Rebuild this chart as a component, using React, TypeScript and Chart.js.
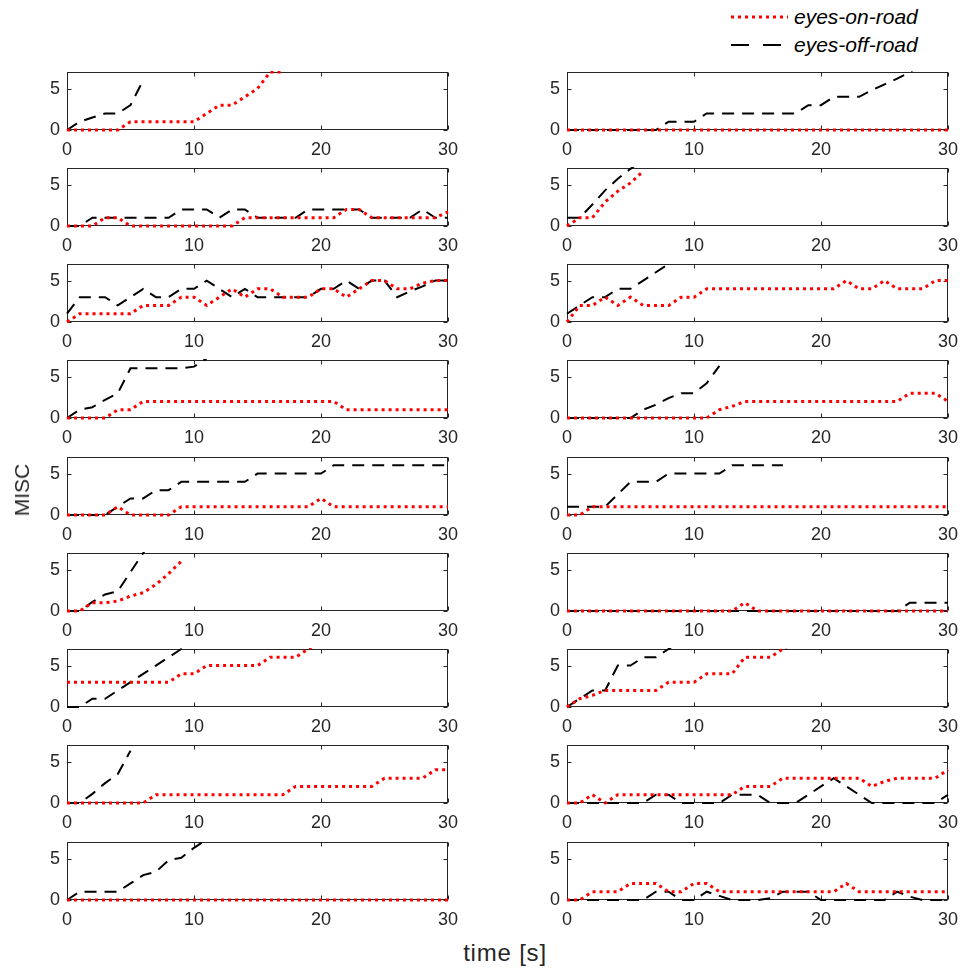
import React, { useEffect, useRef } from "react";
import { Chart, registerables } from "chart.js";

Chart.register(...registerables);

// ---------- data ----------
const TIME = [0, 1, 2, 3, 4, 5, 6, 7, 8, 9, 10, 11, 12, 13, 14, 15, 16, 17, 18, 19, 20, 21, 22, 23, 24, 25, 26, 27, 28, 29, 30];
const X_TICKS = [0, 10, 20, 30];
const Y_TICKS = [0, 5];
const X_MAX = 30;
const Y_MAX = 7;
const SERIES_NAMES = ["eyes-on-road", "eyes-off-road"];
const X_TITLE = "time [s]";
const Y_TITLE = "MISC";

// row 1
const L1_ON = [0, 0, 0, 0, 0, 1, 1, 1, 1, 1, 1, 2, 3, 3, 4, 5, 7, 7];
const L1_OFF = [0, 1, 1.5, 2, 2, 3, 6];
const R1_ON = [0, 0, 0, 0, 0, 0, 0, 0, 0, 0, 0, 0, 0, 0, 0, 0, 0, 0, 0, 0, 0, 0, 0, 0, 0, 0, 0, 0, 0, 0, 0];
const R1_OFF = [0, 0, 0, 0, 0, 0, 0, 0, 1, 1, 1, 2, 2, 2, 2, 2, 2, 2, 2, 3, 3, 4, 4, 4, 4.8, 5.5, 6.2, 7, 8];
// row 2
const L2_ON = [0, 0, 0, 1, 1, 0, 0, 0, 0, 0, 0, 0, 0, 0, 1, 1, 1, 1, 1, 1, 1, 1, 2, 2, 1, 1, 1, 1, 1, 1, 1.7];
const L2_OFF = [0, 0, 1, 1, 1, 1, 1, 1, 1, 2, 2, 2, 1, 2, 2, 1, 1, 1, 1, 2, 2, 2, 2, 2, 1, 1, 1, 1, 2, 1, 1];
const R2_ON = [0, 1, 1, 2.9, 4.2, 5.2, 6.6];
const R2_OFF = [1, 1, 2.6, 4.3, 5.7, 6.9, 8];
// row 3
const L3_ON = [0, 1, 1, 1, 1, 1, 2, 2, 2, 3, 3, 2, 3, 4, 3, 4, 4, 3, 3, 3, 4, 4, 3, 4, 5, 5, 4, 4, 4.7, 5, 5];
const L3_OFF = [1, 3, 3, 3, 2, 3, 4, 3, 3, 4, 4, 5, 4, 3, 4, 3, 3, 3, 3, 3, 4, 4, 5, 4, 5, 5, 3, 3.7, 4.3, 5, 5];
const R3_ON = [0, 2, 2, 3, 2, 3, 2, 2, 2, 3, 3, 4, 4, 4, 4, 4, 4, 4, 4, 4, 4, 4, 5, 4, 4, 5, 4, 4, 4, 5, 5];
const R3_OFF = [1, 2, 3, 3, 4, 4, 5, 6, 7, 8];
// row 4
const L4_ON = [0, 0, 0, 0, 1, 1, 2, 2, 2, 2, 2, 2, 2, 2, 2, 2, 2, 2, 2, 2, 2, 2, 1, 1, 1, 1, 1, 1, 1, 1, 1];
const L4_OFF = [0, 1, 1.3, 2.2, 3, 6, 6, 6, 6, 6, 6.2, 7.2];
const R4_ON = [0, 0, 0, 0, 0, 0, 0, 0, 0, 0, 0, 0, 1, 1.4, 2, 2, 2, 2, 2, 2, 2, 2, 2, 2, 2, 2, 2, 3, 3, 3, 2];
const R4_OFF = [0, 0, 0, 0, 0, 0, 1, 1.6, 2.4, 3, 3, 4.2, 6.3];
// row 5
const L5_ON = [0, 0, 0, 0, 1, 0, 0, 0, 0, 1, 1, 1, 1, 1, 1, 1, 1, 1, 1, 1, 2, 1, 1, 1, 1, 1, 1, 1, 1, 1, 1];
const L5_OFF = [0, 0, 0, 0, 1, 2, 2, 3, 3, 4, 4, 4, 4, 4, 4, 5, 5, 5, 5, 5, 5, 6, 6, 6, 6, 6, 6, 6, 6, 6, 6];
const R5_ON = [0, 0, 1, 1, 1, 1, 1, 1, 1, 1, 1, 1, 1, 1, 1, 1, 1, 1, 1, 1, 1, 1, 1, 1, 1, 1, 1, 1, 1, 1, 1];
const R5_OFF = [1, 1, 1, 1, 2.5, 4, 4, 4, 5, 5, 5, 5, 5, 6, 6, 6, 6, 6];
// row 6
const L6_ON = [0, 0, 1, 1, 1.2, 1.8, 2.2, 3.2, 4.5, 6];
const L6_OFF = [0, 0, 1.1, 2, 2.4, 4.7, 7, 9];
const R6_ON = [0, 0, 0, 0, 0, 0, 0, 0, 0, 0, 0, 0, 0, 0, 1, 0, 0, 0, 0, 0, 0, 0, 0, 0, 0, 0, 0, 0, 0, 0, 0];
const R6_OFF = [0, 0, 0, 0, 0, 0, 0, 0, 0, 0, 0, 0, 0, 0, 0, 0, 0, 0, 0, 0, 0, 0, 0, 0, 0, 0, 0, 1, 1, 1, 1];
// row 7
const L7_ON = [3, 3, 3, 3, 3, 3, 3, 3, 3, 4, 4, 5, 5, 5, 5, 5, 6, 6, 6, 7, 8];
const L7_OFF = [0, 0, 1, 1, 2, 3, 4, 5, 6, 7, 8];
const R7_ON = [0, 1, 1.4, 2, 2, 2, 2, 2, 3, 3, 3, 4, 4, 4, 6, 6, 6, 7, 8];
const R7_OFF = [0, 1, 2, 2, 5, 5, 6, 6, 7, 8];
// row 8
const L8_ON = [0, 0, 0, 0, 0, 0, 0, 1, 1, 1, 1, 1, 1, 1, 1, 1, 1, 1, 2, 2, 2, 2, 2, 2, 2, 3, 3, 3, 3, 4, 4];
const L8_OFF = [0, 0, 1.1, 2.4, 3.5, 6.3];
const R8_ON = [0, 0, 1, 0, 1, 1, 1, 1, 1, 1, 1, 1, 1, 1, 2, 2, 2, 3, 3, 3, 3, 3, 3, 3, 2, 2.6, 3, 3, 3, 3, 4];
const R8_OFF = [0, 0, 0, 0, 0, 0, 0, 1, 1, 0, 0, 0, 0, 1, 1, 1, 0, 0, 0, 1, 2, 3, 2, 1, 0, 0, 0, 0, 0, 0, 1];
// row 9
const L9_ON = [0, 0, 0, 0, 0, 0, 0, 0, 0, 0, 0, 0, 0, 0, 0, 0, 0, 0, 0, 0, 0, 0, 0, 0, 0, 0, 0, 0, 0, 0, 0];
const L9_OFF = [0, 1, 1, 1, 1, 2, 3, 3.4, 4.8, 5.1, 6.3, 7.3, 8];
const R9_ON = [0, 0, 1, 1, 1, 2, 2, 2, 1, 1, 2, 2, 1, 1, 1, 1, 1, 1, 1, 1, 1, 1, 2, 1, 1, 1, 1, 1, 1, 1, 1];
const R9_OFF = [0, 0, 0, 0, 0, 0, 0, 1, 1, 0, 0, 1, 0.5, 0, 0, 0, 0.2, 1, 1, 1, 0, 0, 0, 0, 0, 0, 1, 0.4, 0, 0, 0];

const PANEL_ROWS = [
  [[L1_ON, L1_OFF], [R1_ON, R1_OFF]],
  [[L2_ON, L2_OFF], [R2_ON, R2_OFF]],
  [[L3_ON, L3_OFF], [R3_ON, R3_OFF]],
  [[L4_ON, L4_OFF], [R4_ON, R4_OFF]],
  [[L5_ON, L5_OFF], [R5_ON, R5_OFF]],
  [[L6_ON, L6_OFF], [R6_ON, R6_OFF]],
  [[L7_ON, L7_OFF], [R7_ON, R7_OFF]],
  [[L8_ON, L8_OFF], [R8_ON, R8_OFF]],
  [[L9_ON, L9_OFF], [R9_ON, R9_OFF]],
];

// ---------- layout / style ----------
const COL_LEFT = [67, 567];
const ROW_TOP = [72, 168, 264, 360, 457, 553, 649, 745, 842];
const BOX_W = 381;
const BOX_H = 58;
const PAD_L = 55;
const PAD_T = 6;
const PAD_R = 18;
const PAD_B = 34;
const FONT = "'Liberation Sans', Arial, Helvetica, sans-serif";
const AXIS_COLOR = "#262626";
const RED = "#ff0000";
const BLACK = "#000000";
const RED_DASH = [3, 4];
const BLACK_DASH = [12, 8];

const toPoints = (vals: number[]) => vals.map((v, i) => ({ x: TIME[i], y: v }));

const boxPlugin = {
  id: "boxTicks",
  beforeDatasetsDraw(chart: any) {
    const { ctx, chartArea: a, scales } = chart;
    const L = Math.round(a.left) + 0.5;
    const R = Math.round(a.right) - 0.5;
    const T = Math.round(a.top) + 0.5;
    const B = Math.round(a.bottom) - 0.5;
    ctx.save();
    ctx.strokeStyle = AXIS_COLOR;
    ctx.lineWidth = 1;
    ctx.strokeRect(L, T, R - L, B - T);
    ctx.beginPath();
    const tl = 4;
    X_TICKS.forEach((v) => {
      const px = Math.round(scales.x.getPixelForValue(v)) + 0.5;
      ctx.moveTo(px, B);
      ctx.lineTo(px, B - tl);
      ctx.moveTo(px, T);
      ctx.lineTo(px, T + tl);
    });
    Y_TICKS.forEach((v) => {
      const py = Math.round(scales.y.getPixelForValue(v)) + 0.5;
      ctx.moveTo(L, py);
      ctx.lineTo(L + tl, py);
      ctx.moveTo(R, py);
      ctx.lineTo(R - tl, py);
    });
    ctx.stroke();
    ctx.restore();
  },
};

function Panel({ on, off, left, top }: { on: number[]; off: number[]; left: number; top: number }) {
  const ref = useRef<HTMLCanvasElement | null>(null);
  useEffect(() => {
    if (!ref.current) return;
    const chart = new Chart(ref.current, {
      type: "line",
      data: {
        datasets: [
          {
            label: SERIES_NAMES[0],
            data: toPoints(on),
            borderColor: RED,
            backgroundColor: RED,
            borderWidth: 3,
            borderDash: RED_DASH,
            borderCapStyle: "butt",
            pointRadius: 0,
            tension: 0,
            fill: false,
            clip: { left: 2, right: 2, top: 1, bottom: 4 } as any,
          },
          {
            label: SERIES_NAMES[1],
            data: toPoints(off),
            borderColor: BLACK,
            backgroundColor: BLACK,
            borderWidth: 2,
            borderDash: BLACK_DASH,
            borderCapStyle: "butt",
            pointRadius: 0,
            tension: 0,
            fill: false,
            clip: { left: 2, right: 2, top: 1, bottom: 4 } as any,
          },
        ],
      },
      options: {
        animation: false,
        responsive: false,
        maintainAspectRatio: false,
        devicePixelRatio: 1,
        layout: { autoPadding: false, padding: { left: 0, top: PAD_T, right: PAD_R, bottom: 0 } },
        plugins: { legend: { display: false }, tooltip: { enabled: false } },
        events: [],
        scales: {
          x: {
            type: "linear",
            min: 0,
            max: X_MAX,
            afterBuildTicks: (s: any) => {
              s.ticks = X_TICKS.map((v) => ({ value: v }));
            },
            afterFit: (s: any) => {
              s.height = PAD_B;
              s.paddingLeft = 0;
              s.paddingRight = 0;
            },
            grid: { display: false, drawTicks: false },
            border: { display: false },
            ticks: {
              autoSkip: false,
              maxRotation: 0,
              padding: 9,
              color: AXIS_COLOR,
              font: { family: FONT, size: 18 },
            },
          },
          y: {
            type: "linear",
            min: 0,
            max: Y_MAX,
            afterBuildTicks: (s: any) => {
              s.ticks = Y_TICKS.map((v) => ({ value: v }));
            },
            afterFit: (s: any) => {
              s.width = PAD_L;
              s.paddingTop = 0;
              s.paddingBottom = 0;
            },
            grid: { display: false, drawTicks: false },
            border: { display: false },
            ticks: {
              padding: 7,
              color: AXIS_COLOR,
              font: { family: FONT, size: 18 },
            },
          },
        },
      },
      plugins: [boxPlugin],
    } as any);
    return () => chart.destroy();
  }, [on, off]);
  const w = BOX_W + PAD_L + PAD_R;
  const h = BOX_H + PAD_T + PAD_B;
  return (
    <canvas
      ref={ref}
      width={w}
      height={h}
      style={{ position: "absolute", left: left - PAD_L, top: top - PAD_T, width: w, height: h }}
    />
  );
}

export default function App() {
  const legendText: React.CSSProperties = {
    position: "absolute",
    left: 794,
    fontFamily: FONT,
    fontStyle: "italic",
    fontSize: 21,
    color: "#000",
    lineHeight: "22px",
    whiteSpace: "nowrap",
  };
  return (
    <div style={{ position: "absolute", left: 0, top: 0, width: 962, height: 972, background: "#fff", overflow: "hidden" }}>
      {PANEL_ROWS.map((row, r) =>
        row.map((pair, c) => (
          <Panel key={`${r}-${c}`} on={pair[0]} off={pair[1]} left={COL_LEFT[c]} top={ROW_TOP[r]} />
        ))
      )}
      <svg width={70} height={60} style={{ position: "absolute", left: 725, top: 0 }}>
        <line x1={6} y1={17} x2={63} y2={17} stroke={RED} strokeWidth={3} strokeDasharray="3 4" />
        <line x1={6} y1={45} x2={58} y2={45} stroke={BLACK} strokeWidth={2} strokeDasharray="18 14" />
      </svg>
      <div style={{ ...legendText, top: 6 }}>{SERIES_NAMES[0]}</div>
      <div style={{ ...legendText, top: 34 }}>{SERIES_NAMES[1]}</div>
      <div
        style={{
          position: "absolute",
          left: 22,
          top: 490,
          transform: "translate(-50%, -50%) rotate(-90deg)",
          fontFamily: FONT,
          fontSize: 21,
          color: AXIS_COLOR,
          whiteSpace: "nowrap",
        }}
      >
        {Y_TITLE}
      </div>
      <div
        style={{
          position: "absolute",
          left: 505,
          top: 953,
          transform: "translate(-50%, -50%)",
          fontFamily: FONT,
          fontSize: 24,
          letterSpacing: 0.8,
          color: AXIS_COLOR,
          whiteSpace: "nowrap",
        }}
      >
        {X_TITLE}
      </div>
    </div>
  );
}
